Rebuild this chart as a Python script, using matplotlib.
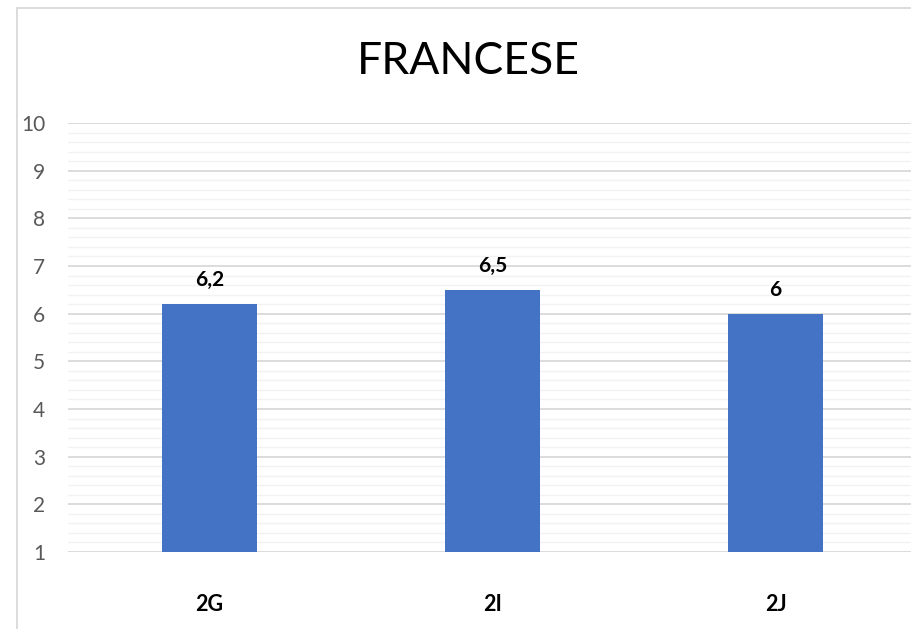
import matplotlib
matplotlib.use("Agg")
import matplotlib.pyplot as plt
from matplotlib.patches import Rectangle
import numpy as np

categories = ["2G", "2I", "2J"]
values = [6.2, 6.5, 6.0]
value_labels = ["6,2", "6,5", "6"]
title = "FRANCESE"

W, H = 911, 629
fig = plt.figure(figsize=(W / 100, H / 100), dpi=100)
fig.patch.set_facecolor("white")

# chart border
fig.patches.append(Rectangle((17 / W, -0.1), 1.2, 1 - 8 / H + 0.1, transform=fig.transFigure,
                             fill=False, edgecolor="#d9d9d9", linewidth=1.3, zorder=0))

left = 68 / W
bottom = 1 - 552 / H
top = 1 - 123 / H
ax = fig.add_axes([left, bottom, 1 - left, top - bottom])
ax.set_facecolor("none")

x = np.arange(len(categories))
ax.bar(x, values, width=0.335, color="#4472c4", zorder=3, bottom=0)
ax.set_ylim(1, 10)
ax.set_xlim(-0.5, (W - 68) / 283 - 0.5)

ax.set_yticks(np.arange(1, 11))
ax.set_yticks(np.arange(1, 10.01, 0.2), minor=True)
ax.grid(axis="y", which="major", color="#d9d9d9", linewidth=1.3, zorder=1)
ax.grid(axis="y", which="minor", color="#f2f2f2", linewidth=1.0, zorder=0)
ax.tick_params(axis="y", which="both", length=0, labelsize=15, labelcolor="#595959", pad=16.5)
for lab in ax.get_yticklabels():
    lab.set_fontfamily("Lato")

ax.set_xticks(x)
ax.set_xticklabels(categories, fontsize=15.5, fontweight="bold", fontfamily="Lato")
ax.tick_params(axis="x", length=0, pad=30)
for s in ax.spines.values():
    s.set_visible(False)

for xi, v, lab in zip(x, values, value_labels):
    ax.annotate(lab, (xi, v), xytext=(0, 10), textcoords="offset points",
                ha="center", va="bottom", fontsize=15, fontweight="bold", fontfamily="Lato")

fig.text(468 / W, 1 - 62 / H, title, ha="center", va="center", fontsize=32, fontfamily="Lato")

fig.savefig("out.png", dpi=100)
